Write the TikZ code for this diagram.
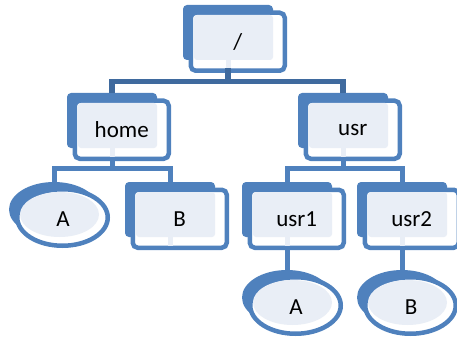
\documentclass[tikz,border=0pt]{standalone}
\usepackage{fontspec}
\setmainfont{Carlito}
\usetikzlibrary{shapes.geometric,calc}
\definecolor{blueC}{RGB}{79,129,189}
\definecolor{barC}{RGB}{63,106,158}
\definecolor{lightC}{RGB}{233,238,246}
\tikzset{
  outl/.style={draw=blueC, line width=4.5pt, fill=white, outer sep=0pt, inner sep=0pt},
  conn/.style={draw=blueC, line width=5pt},
  topconn/.style={draw=barC, line width=5.5pt},
  lightstub/.style={draw=lightC, line width=5pt},
  lbl/.style={font=\fontsize{23}{27}\selectfont, text=black, inner sep=0pt}
}
% box: name, x0, y0, text
\newcommand\mkbox[4]{%
  \fill[blueC, rounded corners=4pt] (#2,#3) rectangle ++(90,55);
  \node[outl, rectangle, rounded corners=5pt, minimum width=94pt, minimum height=58pt] (#1) at (#2+54.75,#3+36.75) {};
  \fill[lightC, rounded corners=3pt] (#2+11,#3+10) rectangle (#2+90,#3+55);
  \node[lbl] (#1-t) at (#1.center) {#4};
  \coordinate (#1-top) at (#2+45,#3);
  \coordinate (#1-bot) at (#2+45,#3+63.5);
  \draw[lightstub] (#2+45,#3+55) -- (#2+45,#3+63.5);
}
\newcommand\mkell[4]{%
  \fill[blueC] (#2+45,#3+27.5) ellipse [x radius=45, y radius=27.5];
  \node[outl, ellipse, minimum width=90.5pt, minimum height=56.5pt] (#1) at (#2+53.5,#3+35.5) {};
  \fill[lightC] (#2+50.5,#3+32.5) ellipse [x radius=39.5, y radius=22.5];
  \node[lbl] (#1-t) at (#2+54,#3+37) {#4};
  \coordinate (#1-top) at (#2+45,#3);
}
\begin{document}
\begin{tikzpicture}[x=1pt,y=-1pt]
\useasboundingbox (0,0) rectangle (457,342);
\mkbox{root}{183}{5}{/}
\mkbox{home}{67}{93}{home}
\mkbox{usr}{298}{93}{usr}
\mkell{ha}{9}{182}{A}
\mkbox{hb}{125}{182}{B}
\mkbox{usrone}{242}{182}{usr1}
\mkbox{usrtwo}{357}{182}{usr2}
\mkell{ua}{242}{270}{A}
\mkell{ub}{357}{270}{B}
\coordinate (b1) at (0,81.5);
\coordinate (b2) at (0,168);
\draw[topconn] (root-bot) -- (root-bot |- b1) -| (home-top);
\draw[topconn] (root-bot |- b1) -| (usr-top);
\draw[conn] (home-bot) -- (home-bot |- b2) -| (ha-top);
\draw[conn] (home-bot |- b2) -| (hb-top);
\draw[conn] (usr-bot) -- (usr-bot |- b2) -| (usrone-top);
\draw[conn] (usr-bot |- b2) -| (usrtwo-top);
\draw[conn] (usrone-bot) -- (ua-top);
\draw[conn] (usrtwo-bot) -- (ub-top);
\end{tikzpicture}
\end{document}
